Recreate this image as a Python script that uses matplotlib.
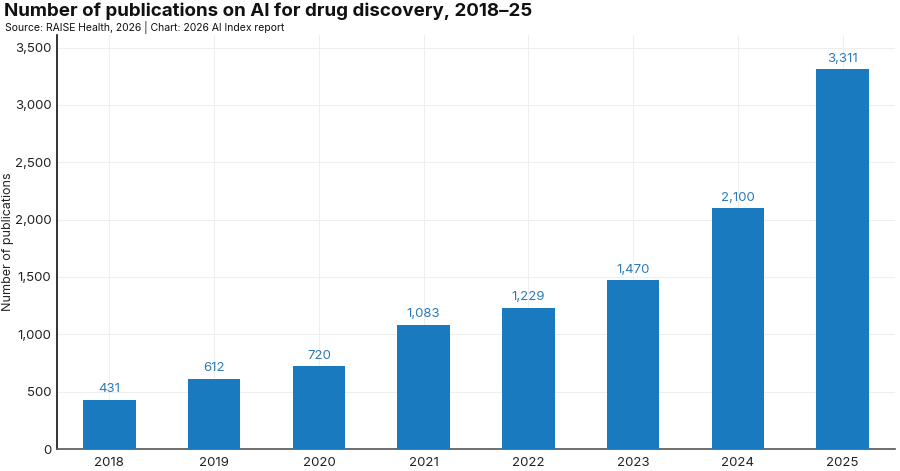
import numpy as np
import matplotlib.pyplot as plt
from matplotlib.ticker import FuncFormatter

plt.rcParams['font.family'] = ['Inter', 'DejaVu Sans']

years = ['2018', '2019', '2020', '2021', '2022', '2023', '2024', '2025']
pubs = [431, 612, 720, 1083, 1229, 1470, 2100, 3311]

fig = plt.figure(figsize=(9, 4.71), dpi=100)
ax = fig.add_axes([57/900, 1 - 449/471, 838/900, (449-35)/471])

x = np.arange(len(years))
ax.bar(x, pubs, width=0.5, color='#1a7abf', zorder=3)
for xi, v in zip(x, pubs):
    ax.text(xi, v + 40, f'{v:,}', ha='center', va='bottom', fontsize=9.5, color='#2c7bb6')

ax.set_xlim(-0.5, 7.5)
ax.set_ylim(0, 3610)
ax.set_yticks(np.arange(0, 3501, 500))
ax.yaxis.set_major_formatter(FuncFormatter(lambda v, p: f'{int(v):,}'))
ax.set_xticks(x)
ax.set_xticklabels(years)
ax.tick_params(axis='both', length=0, labelsize=9.5, colors='#222222')
ax.tick_params(axis='x', pad=6)
ax.tick_params(axis='y', pad=4)

ax.grid(True, color='#eeeeee', linewidth=0.8, zorder=0)
ax.set_axisbelow(True)
for s in ['top', 'right']:
    ax.spines[s].set_visible(False)
ax.spines['left'].set_color('#111111')
ax.spines['left'].set_linewidth(1.2)
ax.spines['bottom'].set_color('#555555')
ax.spines['bottom'].set_linewidth(1.2)

# y label placed by hand, it sits close to the figure edge
fig.text(8/900, 1 - 242/471, 'Number of publications', rotation=90,
         fontsize=9, ha='center', va='center', color='#222222')

fig.text(4/900, 1 - 2/471, 'Number of publications on AI for drug discovery, 2018\u201325',
         fontsize=13.5, fontweight='bold', ha='left', va='top', color='#111111')
fig.text(5/900, 1 - 21/471, 'Source: RAISE Health, 2026 | Chart: 2026 AI Index report',
         fontsize=7.5, ha='left', va='top', color='#111111')

fig.savefig('out.png', dpi=100)
